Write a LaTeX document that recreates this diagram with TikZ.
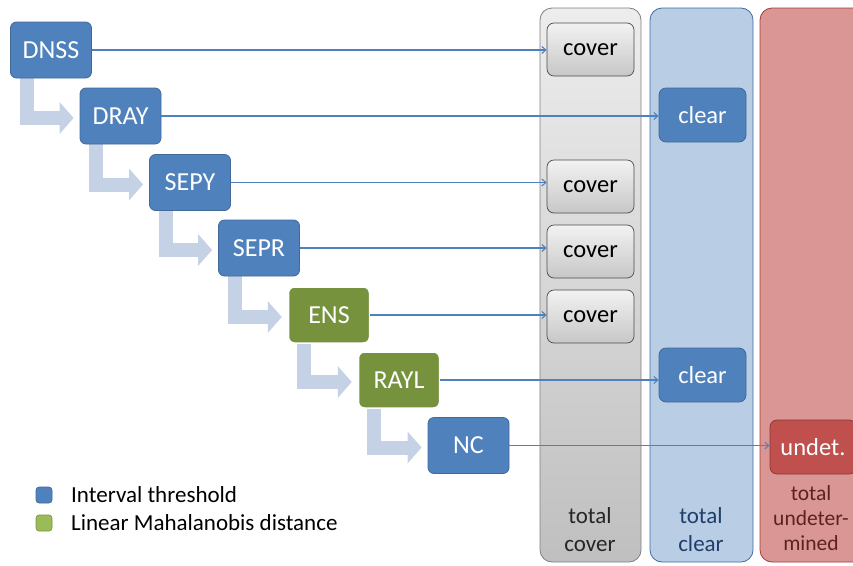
\documentclass[tikz,border=0pt]{standalone}
\usepackage{fontspec}
\setmainfont{Carlito}
\usetikzlibrary{arrows.meta,calc,shadings,backgrounds}
\definecolor{bluebox}{HTML}{4F81BD}
\definecolor{blueedge}{HTML}{41699A}
\definecolor{greenbox}{HTML}{76923C}
\definecolor{greenleg}{HTML}{9BBB59}
\definecolor{band}{HTML}{C5D1E5}
\definecolor{colgrayedge}{HTML}{7F7F7F}
\definecolor{colblue}{HTML}{B9CDE5}
\definecolor{colblueedge}{HTML}{3F6CA6}
\definecolor{colred}{HTML}{DA9694}
\definecolor{colrededge}{HTML}{A23B39}
\definecolor{redbox}{HTML}{C0504D}
\definecolor{rededge}{HTML}{8C3836}
\definecolor{txtblue}{HTML}{1F3F6B}
\definecolor{txtred}{HTML}{5C2220}
\tikzset{
  chainbox/.style={rounded corners=6pt, minimum width=81pt, minimum height=56pt,
    inner sep=0pt, text=white, font=\fontsize{26}{29}\selectfont},
  bluenode/.style={chainbox, fill=bluebox, draw=blueedge, line width=0.8pt},
  greennode/.style={chainbox, fill=greenbox, draw=white, line width=1.5pt},
  coverbox/.style={rounded corners=7pt, minimum width=87pt, minimum height=53pt,
    inner sep=0pt, top color=white!95!black, bottom color=black!22, draw=black!70,
    line width=0.7pt, font=\fontsize{24.5}{27}\selectfont},
  clearbox/.style={rounded corners=7pt, minimum width=87pt, minimum height=54pt,
    inner sep=0pt, fill=bluebox, draw=blueedge, line width=0.8pt, text=white,
    font=\fontsize{24.5}{27}\selectfont},
  undetbox/.style={rounded corners=7pt, minimum width=86pt, minimum height=54pt,
    inner sep=0pt, fill=redbox, draw=rededge, line width=0.8pt, text=white,
    font=\fontsize{24.5}{27}\selectfont},
  link/.style={draw=bluebox, line width=1.1pt, -{Straight Barb[length=4pt,width=7pt]}},
  bendarrow/.style={draw=band, line width=14pt, line cap=butt,
    -{Triangle[length=14pt,width=31pt]}},
  collabel/.style={align=center, inner sep=0pt},
  legsq/.style={rounded corners=3pt, minimum size=16pt, inner sep=0pt, line width=0.6pt},
  legtext/.style={anchor=west, inner sep=0pt, font=\fontsize{23}{26}\selectfont}
}
\begin{document}
\begin{tikzpicture}[x=1pt,y=-1pt]
\useasboundingbox (0,0) rectangle (853,565);
% columns
\draw[rounded corners=12pt, top color=black!7, bottom color=black!25, draw=colgrayedge, line width=0.8pt]
  (540,8) rectangle (641,562);
\draw[rounded corners=12pt, fill=colblue, draw=colblueedge, line width=0.8pt]
  (650,8) rectangle (753,562);
\draw[rounded corners=12pt, fill=colred, draw=colrededge, line width=0.8pt]
  (760,8) rectangle (880,562);
% column labels
\node[collabel, font=\fontsize{23}{28}\selectfont, text=black!85] (lcov) at (590,530) {total\\cover};
\node[collabel, font=\fontsize{23}{28}\selectfont, text=txtblue] (lclr) at (701,530) {total\\clear};
\node[collabel, font=\fontsize{21.5}{25}\selectfont, text=txtred] (lund) at (811,518) {total\\undeter-\\mined};
% result boxes
\node[coverbox] (cov1) at (590.5,49.5) {cover};
\node[coverbox] (cov2) at (590.5,186.5) {cover};
\node[coverbox] (cov3) at (590.5,251.5) {cover};
\node[coverbox] (cov4) at (590.5,316.5) {cover};
\node[clearbox] (clr1) at (702.5,115) {clear};
\node[clearbox] (clr2) at (702.5,375) {clear};
\node[undetbox] (und) at (813,447) {undet.};
% chain nodes
\node[bluenode] (dnss) at (51,50) {DNSS};
\node[bluenode] (dray) at (120.5,116) {DRAY};
\node[bluenode] (sepy) at (190,182.5) {SEPY};
\node[bluenode] (sepr) at (259,248) {SEPR};
\node[greennode] (ens) at (329,315) {ENS};
\node[greennode] (rayl) at (399,380) {RAYL};
\node[bluenode] (nc) at (468.5,445.5) {NC};
% bent arrows (behind the chain nodes)
\begin{scope}[on background layer]
\foreach \a/\b in {dnss/dray,dray/sepy,sepy/sepr,sepr/ens,ens/rayl,rayl/nc}{
  \draw[bendarrow] ($(\a.south west)+(16.5,-6)$) |- ($(\b.west)+(-6,2)$);
}
\end{scope}
% links
\draw[link] (dnss.east) -- (dnss.east -| cov1.west);
\draw[link] (dray.east) -- (dray.east -| clr1.west);
\draw[link] (sepy.east) -- (sepy.east -| cov2.west);
\draw[link] (sepr.east) -- (sepr.east -| cov3.west);
\draw[link] (ens.east) -- (ens.east -| cov4.west);
\draw[link] (rayl.east) -- (rayl.east -| clr2.west);
\draw[link] (nc.east) -- (nc.east -| und.west);
% legend
\node[legsq, fill=bluebox, draw=blueedge] (lg1) at (44,495) {};
\node[legsq, fill=greenleg, draw=greenbox] (lg2) at (44,523) {};
\node[legtext] (lt1) at (71,495) {Interval threshold};
\node[legtext] (lt2) at (71,523) {Linear Mahalanobis distance};
\end{tikzpicture}
\end{document}
